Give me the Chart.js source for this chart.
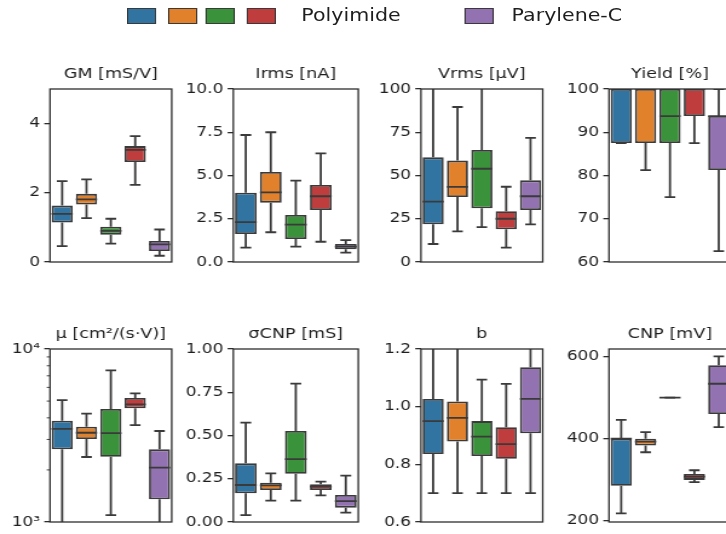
<!DOCTYPE html>
<html><head><meta charset="utf-8">
<script src="https://cdn.jsdelivr.net/npm/chart.js@4.4.1/dist/chart.umd.min.js"></script>
<style>
html,body{margin:0;padding:0;overflow:hidden;background:#fff;width:726px;height:534px;}
#wrap{position:absolute;left:0;top:0;width:630px;height:534px;transform:scaleX(1.21);transform-origin:0 0;}
#wrap canvas{position:absolute;left:0;top:0;}
.patch{position:absolute;top:7.5px;width:24px;height:16.5px;border:1.5px solid #3a3a3a;box-sizing:border-box;}
.ltext{position:absolute;top:4.5px;font:17px "DejaVu Sans";color:#1e1e1e;white-space:nowrap;}
</style></head>
<body><div id="wrap">
<div class="patch" style="left:104.5px;background:#3274a1"></div>
<div class="patch" style="left:139.2px;background:#e1812c"></div>
<div class="patch" style="left:170.2px;background:#3a923a"></div>
<div class="patch" style="left:204.1px;background:#c03d3e"></div>
<div class="ltext" style="left:249px">Polyimide</div>
<div class="patch" style="left:383.5px;background:#9372b2"></div>
<div class="ltext" style="left:422.8px">Parylene-C</div>
</div>
<script>
// ---- data: each row = [lower whisker, Q1, median, Q3, upper whisker]
const groups = ['Polyimide 1', 'Polyimide 2', 'Polyimide 3', 'Polyimide 4', 'Parylene-C'];
const gmStats    = [[0.46,1.14,1.39,1.63,2.34],[1.27,1.66,1.81,1.97,2.39],[0.53,0.79,0.90,1.02,1.25],[2.23,2.89,3.24,3.35,3.64],[0.18,0.32,0.51,0.61,0.94]];
const irmsStats  = [[0.83,1.62,2.31,4.00,7.34],[1.72,3.43,4.03,5.20,7.50],[0.89,1.33,2.16,2.72,4.70],[1.17,3.00,3.80,4.45,6.28],[0.54,0.73,0.89,1.04,1.27]];
const vrmsStats  = [[10.4,21.8,34.9,60.5,112],[17.7,37.6,43.4,58.6,89.6],[20.2,31.0,53.9,64.7,108],[8.3,18.9,25.0,29.3,43.5],[21.8,30.0,38.0,47.2,71.7]];
const yieldStats = [[87.5,87.5,100,100,100],[81.25,87.5,100,100,100],[75,87.5,93.75,100,100],[87.5,93.75,100,100,100],[62.5,81.25,93.75,93.75,100]];
const muStats    = [[900,2630,3450,3850,5070],[2375,3020,3280,3555,4230],[1097,2385,3260,4500,7530],[3635,4540,4790,5210,5545],[900,1353,2060,2630,3357]];
const scnpStats  = [[0.040,0.166,0.214,0.339,0.574],[0.123,0.185,0.212,0.227,0.281],[0.123,0.279,0.364,0.526,0.800],[0.154,0.185,0.204,0.218,0.233],[0.054,0.083,0.121,0.156,0.268]];
const bStats     = [[0.70,0.836,0.950,1.027,1.25],[0.70,0.879,0.961,1.018,1.25],[0.70,0.829,0.896,0.950,1.094],[0.70,0.819,0.870,0.929,1.079],[0.70,0.908,1.027,1.137,1.25]];
const cnpStats   = [[218,285,400,400,446],[367,383.4,393,399.7,416],[500,500,500,500,500],[294,299.5,307.5,314,323],[428,460,534,579,601]];

const gmTicks    = [0, 2, 4];
const irmsTicks  = [0, 2.5, 5, 7.5, 10];
const vrmsTicks  = [0, 25, 50, 75, 100];
const yieldTicks = [60, 70, 80, 90, 100];
const muTicks    = [1000,2000,3000,4000,5000,6000,7000,8000,9000,10000];
const muMajor    = [1000, 10000];
const scnpTicks  = [0, 0.25, 0.5, 0.75, 1];
const bTicks     = [0.6, 0.8, 1.0, 1.2];
const cnpTicks   = [200, 400, 600];

// ---- styling / layout
const colors = ['#3274a1','#e1812c','#3a923a','#c03d3e','#9372b2'];
const edge = '#3a3a3a';
const LW = 1.8;
const colL = [41.3, 192.8, 347.9, 503.3], colR = [141.9, 296.1, 448.5, 604.1];
const rowT = [89, 349], rowB = [262, 522];
const CW = 630, CH = 534;
Chart.defaults.font.family = 'DejaVu Sans';

const panels = [
  {title:'GM [mS/V]', stats:gmStats, ticks:gmTicks, min:0, max:5, fmt:v=>String(v), col:0, row:0},
  {title:'Irms [nA]', stats:irmsStats, ticks:irmsTicks, min:0, max:10, fmt:v=>v.toFixed(1), col:1, row:0},
  {title:'Vrms [μV]', stats:vrmsStats, ticks:vrmsTicks, min:0, max:100, fmt:v=>String(v), col:2, row:0},
  {title:'Yield [%]', stats:yieldStats, ticks:yieldTicks, min:60, max:100, fmt:v=>String(v), col:3, row:0},
  {title:'μ [cm²/(s·V)]', stats:muStats, ticks:muTicks, min:1000, max:10000, log:true,
     fmt:v=>v===1000?'10³':(v===10000?'10⁴':''), col:0, row:1},
  {title:'σCNP [mS]', stats:scnpStats, ticks:scnpTicks, min:0, max:1, fmt:v=>v.toFixed(2), col:1, row:1},
  {title:'b', stats:bStats, ticks:bTicks, min:0.6, max:1.2, fmt:v=>v.toFixed(1), col:2, row:1},
  {title:'CNP [mV]', stats:cnpStats, ticks:cnpTicks, min:196.8, max:618.8, fmt:v=>String(v), col:3, row:1}
];

function boxPlugin(def){
  return {
    id:'boxplot',
    beforeDatasetsDraw(chart){
      const {ctx, chartArea:a, scales:{x, y}} = chart;
      const meta = chart.getDatasetMeta(0);
      ctx.save();
      ctx.beginPath(); ctx.rect(a.left, a.top, a.right-a.left, a.bottom-a.top); ctx.clip();
      ctx.strokeStyle = edge; ctx.lineWidth = LW;
      def.stats.forEach((s, i) => {
        const cx = x.getPixelForValue(i);
        const cw = meta.data[i].width / 2;
        const pLo = y.getPixelForValue(s[0]), pQ1 = y.getPixelForValue(s[1]);
        const pQ3 = y.getPixelForValue(s[3]), pHi = y.getPixelForValue(s[4]);
        ctx.beginPath();
        ctx.moveTo(cx, pLo); ctx.lineTo(cx, pQ1);
        ctx.moveTo(cx, pQ3); ctx.lineTo(cx, pHi);
        ctx.moveTo(cx - cw/2, pLo); ctx.lineTo(cx + cw/2, pLo);
        ctx.moveTo(cx - cw/2, pHi); ctx.lineTo(cx + cw/2, pHi);
        ctx.stroke();
      });
      ctx.restore();
    },
    afterDatasetsDraw(chart){
      const {ctx, chartArea:a, scales:{x, y}} = chart;
      const meta = chart.getDatasetMeta(0);
      ctx.save();
      ctx.beginPath(); ctx.rect(a.left, a.top, a.right-a.left, a.bottom-a.top); ctx.clip();
      ctx.strokeStyle = edge; ctx.lineWidth = LW;
      def.stats.forEach((s, i) => {
        const cx = x.getPixelForValue(i);
        const w = meta.data[i].width;
        const pm = y.getPixelForValue(s[2]);
        ctx.beginPath(); ctx.moveTo(cx - w/2, pm); ctx.lineTo(cx + w/2, pm); ctx.stroke();
      });
      ctx.restore();
      ctx.save();
      ctx.strokeStyle = '#2e2e2e'; ctx.lineWidth = 1.3;
      ctx.strokeRect(a.left, a.top, a.right - a.left, a.bottom - a.top);
      if (def.log) {
        ctx.lineWidth = 0.9;
        def.ticks.forEach(v => {
          if (muMajor.includes(v)) return;
          const py = y.getPixelForValue(v);
          ctx.beginPath(); ctx.moveTo(a.left - 2.7, py); ctx.lineTo(a.left, py); ctx.stroke();
        });
      }
      ctx.fillStyle = '#1e1e1e';
      ctx.font = '14.5px "DejaVu Sans"';
      ctx.textAlign = 'center'; ctx.textBaseline = 'alphabetic';
      ctx.fillText(def.title, (a.left + a.right) / 2, a.top - 11);
      ctx.restore();
    }
  };
}

const wrap = document.getElementById('wrap');
panels.forEach(def => {
  const c = document.createElement('canvas');
  c.width = CW; c.height = CH;
  c.style.width = CW + 'px'; c.style.height = CH + 'px';
  wrap.appendChild(c);
  const L = colL[def.col], R = colR[def.col], T = rowT[def.row], B = rowB[def.row];
  new Chart(c, {
    type: 'bar',
    data: {
      labels: groups,
      datasets: [{
        data: def.stats.map(s => [s[1], s[3]]),
        backgroundColor: colors,
        borderColor: edge,
        borderWidth: LW,
        borderSkipped: false,
        barPercentage: 0.87,
        categoryPercentage: 1
      }]
    },
    options: {
      responsive: false, animation: false, devicePixelRatio: 1, events: [],
      layout: {padding: {left: 0, top: T, right: CW - R, bottom: CH - B}},
      plugins: {legend: {display: false}, tooltip: {enabled: false}, title: {display: false}},
      scales: {
        x: {type: 'category', display: false},
        y: {
          type: def.log ? 'logarithmic' : 'linear',
          min: def.min, max: def.max,
          afterFit(s) { s.width = L; },
          afterBuildTicks(s) { s.ticks = def.ticks.map(v => ({value: v})); },
          ticks: {autoSkip: false, padding: 3.5, color: '#1e1e1e', font: {family: 'DejaVu Sans', size: 14}, callback: v => def.fmt(v)},
          grid: {display: true, drawOnChartArea: false, drawTicks: true, tickLength: 4.7, lineWidth: 1.3,
            color: ctx => (def.log && ctx.tick && !muMajor.includes(ctx.tick.value)) ? 'rgba(0,0,0,0)' : '#2e2e2e'},
          border: {display: false}
        }
      }
    },
    plugins: [boxPlugin(def)]
  });
});
</script>
</body></html>
